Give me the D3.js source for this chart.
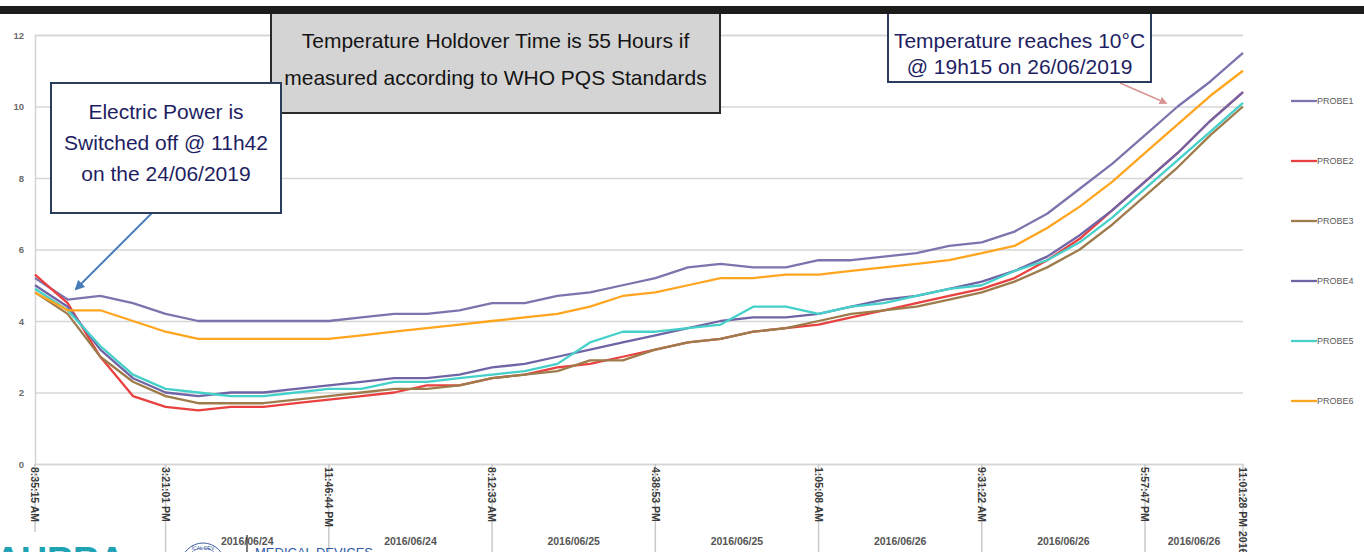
<!DOCTYPE html>
<html><head><meta charset="utf-8">
<script src="https://cdn.jsdelivr.net/npm/d3@7"></script>
<style>
body{margin:0;background:#fff;overflow:hidden}
text{font-family:Arial,"Liberation Sans",Helvetica,sans-serif}
</style>
</head><body>
<svg id="c" width="1364" height="552"></svg>
<script>
// ---------------- DATA ----------------
const sampleCount = 38; // readings roughly every 101 minutes
const tickIndex  = [0, 4, 9, 14, 19, 24, 29, 34, 37];
const tickLabels = ["8:35:15 AM","3:21:01 PM","11:46:44 PM","8:12:33 AM","4:38:53 PM","1:05:08 AM","9:31:22 AM","5:57:47 PM","11:01:28 PM"];
// date labels for the intervals between ticks (the first interval's label is hidden by the logo)
const dateLabels = ["2016/06/24","2016/06/24","2016/06/25","2016/06/25","2016/06/26","2016/06/26","2016/06/26"];
const dateIntervalStart = [1, 2, 3, 4, 5, 6, 7];
const lastDateLabel = "2016/06/26";
const yTicks = [0, 2, 4, 6, 8, 10, 12];
const seriesNames = ["PROBE1","PROBE2","PROBE3","PROBE4","PROBE5","PROBE6"];
const seriesColors = ["#7d74ad","#e8413f","#9d7b4b","#6f64a6","#45d0c9","#ffa51f"];

const probe1 = [5.2,4.6,4.7,4.5,4.2,4.0,4.0,4.0,4.0,4.0,4.1,4.2,4.2,4.3,4.5,4.5,4.7,4.8,5.0,5.2,5.5,5.6,5.5,5.5,5.7,5.7,5.8,5.9,6.1,6.2,6.5,7.0,7.7,8.4,9.2,10.0,10.7,11.5];
const probe2 = [5.3,4.5,3.0,1.9,1.6,1.5,1.6,1.6,1.7,1.8,1.9,2.0,2.2,2.2,2.4,2.5,2.7,2.8,3.0,3.2,3.4,3.5,3.7,3.8,3.9,4.1,4.3,4.5,4.7,4.9,5.2,5.7,6.3,7.1,7.9,8.7,9.6,10.4];
const probe3 = [4.8,4.2,3.0,2.3,1.9,1.7,1.7,1.7,1.8,1.9,2.0,2.1,2.1,2.2,2.4,2.5,2.6,2.9,2.9,3.2,3.4,3.5,3.7,3.8,4.0,4.2,4.3,4.4,4.6,4.8,5.1,5.5,6.0,6.7,7.5,8.3,9.2,10.0];
const probe4 = [5.0,4.4,3.2,2.4,2.0,1.9,2.0,2.0,2.1,2.2,2.3,2.4,2.4,2.5,2.7,2.8,3.0,3.2,3.4,3.6,3.8,4.0,4.1,4.1,4.2,4.4,4.6,4.7,4.9,5.1,5.4,5.8,6.4,7.1,7.9,8.7,9.6,10.4];
const probe5 = [4.9,4.3,3.3,2.5,2.1,2.0,1.9,1.9,2.0,2.1,2.1,2.3,2.3,2.4,2.5,2.6,2.8,3.4,3.7,3.7,3.8,3.9,4.4,4.4,4.2,4.4,4.5,4.7,4.9,5.0,5.4,5.7,6.2,6.9,7.7,8.5,9.3,10.1];
const probe6 = [4.8,4.3,4.3,4.0,3.7,3.5,3.5,3.5,3.5,3.5,3.6,3.7,3.8,3.9,4.0,4.1,4.2,4.4,4.7,4.8,5.0,5.2,5.2,5.3,5.3,5.4,5.5,5.6,5.7,5.9,6.1,6.6,7.2,7.9,8.7,9.5,10.3,11.0];

const noteHoldover = ["Temperature Holdover Time is 55 Hours if","measured according to WHO PQS Standards"];
const notePower = ["Electric Power is","Switched off @ 11h42","on the 24/06/2019"];
const noteReach = ["Temperature reaches 10°C","@ 19h15 on 26/06/2019"];

// ---------------- CHART ----------------
const series = [probe1, probe2, probe3, probe4, probe5, probe6];
const svg = d3.select("#c");
const x = d3.scaleLinear().domain([0, sampleCount - 1]).range([35, 1243]);
const y = d3.scaleLinear().domain([0, 12]).range([464, 35]);

svg.append("rect").attr("width",1364).attr("height",552).attr("fill","#fff");

// horizontal gridlines + y labels
const yAxis = d3.axisLeft(y).tickValues(yTicks).tickSize(-(x.range()[1]-x.range()[0])).tickFormat(d3.format("d"));
const gy = svg.append("g").attr("transform","translate(35,0)").call(yAxis);
gy.select(".domain").attr("stroke","#d4d4d4").attr("stroke-width",1.5);
gy.selectAll(".tick line").attr("stroke","#d6d6d6").attr("stroke-width",1.6);
gy.selectAll(".tick text").attr("x",-11).attr("fill","#6a6a6a").attr("font-size","9.5px").attr("font-weight","bold");

// x category ticks (long group dividers)
svg.append("g").selectAll("line").data(tickIndex).join("line")
  .attr("x1",d=>x(d)).attr("x2",d=>x(d)).attr("y1",464).attr("y2",552)
  .attr("stroke","#c9c9c9").attr("stroke-width",1.5);

// rotated time labels
svg.append("g").selectAll("text").data(tickIndex).join("text")
  .attr("transform",d=>`translate(${x(d)},467) rotate(90)`)
  .attr("dy","0.35em").attr("fill","#3a3a3a").attr("font-size","10.5px").attr("font-weight","bold")
  .text((d,i)=>tickLabels[i]);

// date labels between ticks
svg.append("g").selectAll("text").data(dateLabels).join("text")
  .attr("x",(d,i)=>(x(tickIndex[dateIntervalStart[i]])+x(tickIndex[dateIntervalStart[i]+1]))/2).attr("y",545)
  .attr("text-anchor","middle").attr("fill","#555").attr("font-size","10.5px").attr("font-weight","bold")
  .text(d=>d);
svg.append("text").attr("transform",`translate(${x(tickIndex[tickIndex.length-1])},531) rotate(90)`)
  .attr("dy","0.35em").attr("fill","#3a3a3a").attr("font-size","10.5px").attr("font-weight","bold").text(lastDateLabel);

// lines
const line = d3.line().x((d,i)=>x(i)).y(d=>y(d));
svg.append("g").selectAll("path").data(series).join("path")
  .attr("d",line).attr("fill","none")
  .attr("stroke",(d,i)=>seriesColors[i]).attr("stroke-width",2.3).attr("stroke-linejoin","round");

// legend
const lg = svg.append("g").selectAll("g").data(seriesNames).join("g")
  .attr("transform",(d,i)=>`translate(1291,${101+i*60})`);
lg.append("line").attr("x1",0).attr("x2",26).attr("stroke",(d,i)=>seriesColors[i]).attr("stroke-width",2.3);
lg.append("text").attr("x",26).attr("dy","0.35em").attr("fill","#5a5a5a").attr("font-size","9px").text(d=>d);

// arrows
const defs = svg.append("defs");
function marker(id,color){
  defs.append("marker").attr("id",id).attr("viewBox","0 0 10 10").attr("refX",8).attr("refY",5)
    .attr("markerWidth",5).attr("markerHeight",5).attr("orient","auto")
    .append("path").attr("d","M0,0 L10,5 L0,10 z").attr("fill",color);
}
marker("mb","#4a7ebb"); marker("mr","#d99594");
svg.append("line").attr("x1",152).attr("y1",213).attr("x2",76).attr("y2",289)
  .attr("stroke","#4a7ebb").attr("stroke-width",2).attr("marker-end","url(#mb)");
svg.append("line").attr("x1",1120).attr("y1",83).attr("x2",1166).attr("y2",103)
  .attr("stroke","#d99594").attr("stroke-width",1.6).attr("marker-end","url(#mr)");

// annotation boxes
function box(x0,y0,w,h,fill,stroke,lines,color,lineGap,firstBase){
  const g = svg.append("g");
  g.append("rect").attr("x",x0).attr("y",y0).attr("width",w).attr("height",h)
    .attr("fill",fill).attr("stroke",stroke).attr("stroke-width",2);
  g.selectAll("text").data(lines).join("text")
    .attr("x",x0+w/2).attr("y",(d,i)=>firstBase+i*lineGap)
    .attr("text-anchor","middle").attr("fill",color).attr("font-size","21px").text(d=>d);
}
box(271,10,449,103,"#d4d4d4","#2a2a2a",noteHoldover,"#141414",37,48);
box(51,83,230,130,"#fff","#2b3d5c",notePower,"#1e1e62",31,119);
box(888,12,263,70,"#fff","#2b3d5c",noteReach,"#1e1e62",26,48);

// top black bar
svg.append("rect").attr("x",0).attr("y",6).attr("width",1364).attr("height",8).attr("fill","#1c1c1c");

// bottom-left logo strip
svg.append("rect").attr("x",0).attr("y",532).attr("width",160).attr("height",20).attr("fill","#fff");
svg.append("text").attr("x",-5).attr("y",573).attr("fill","#1ea3b5").attr("font-size","36px").attr("font-weight","bold").text("AURRA");
svg.append("circle").attr("cx",203).attr("cy",565).attr("r",22).attr("fill","#fff").attr("stroke","#4060a0").attr("stroke-width",1);
svg.append("circle").attr("cx",203).attr("cy",565).attr("r",17).attr("fill","none").attr("stroke","#4060a0").attr("stroke-width",0.7);
svg.append("text").attr("x",203).attr("y",550).attr("text-anchor","middle").attr("fill","#4060a0").attr("font-size","5px").text("ICAL DEV");
svg.append("line").attr("x1",247).attr("x2",247).attr("y1",535).attr("y2",552).attr("stroke","#222").attr("stroke-width",1.2);
svg.append("text").attr("x",255).attr("y",557).attr("fill","#2f5aa6").attr("font-size","13px").text("MEDICAL DEVICES");
</script>
</body></html>
